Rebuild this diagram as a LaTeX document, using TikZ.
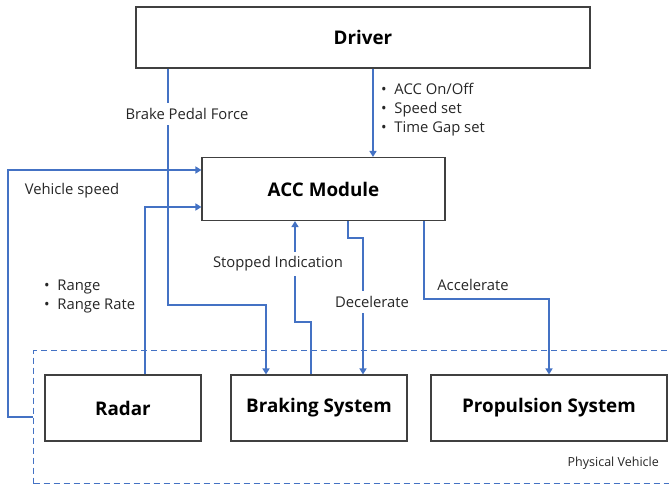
\documentclass[tikz,border=0pt]{standalone}
\usepackage{fontspec}
\setmainfont{Open Sans}
\usetikzlibrary{arrows.meta}
\definecolor{flowblue}{RGB}{68,114,196}
\definecolor{boxgray}{RGB}{64,64,64}
\tikzset{
  box/.style={draw=boxgray, line width=1.1pt, fill=white, font=\fontsize{18.8}{21}\selectfont\bfseries, inner sep=0pt},
  flow/.style={draw=flowblue, line width=2.4pt, -{Triangle[width=7pt,length=6pt]}},
  lbl/.style={font=\fontsize{14.8}{19}\selectfont, text=black!85, inner sep=1pt},
  cut/.style={lbl, fill=white, inner ysep=5pt},
  pvbox/.style={draw=flowblue, line width=1pt, dash pattern=on 6pt off 4pt, inner sep=0pt}
}
\begin{document}
\begin{tikzpicture}[x=1pt,y=-1pt]
\useasboundingbox (0,0) rectangle (669,484);
\clip (0,0) rectangle (669,484);
% physical vehicle region
\node[pvbox, minimum width=660pt, minimum height=133pt, anchor=north west] (pv) at (33,350) {};
\node[lbl, font=\fontsize{12.5}{14}\selectfont, anchor=east] (pvl) at (660,463) {Physical Vehicle};
% boxes
\node[box, minimum width=454pt, minimum height=61pt] (driver) at (363,37.5) {Driver};
\node[box, minimum width=243pt, minimum height=63pt] (acc) at (323.5,189) {ACC Module};
\node[box, minimum width=156pt, minimum height=66pt] (radar) at (123,408) {Radar};
\node[box, minimum width=176pt, minimum height=66pt] (braking) at (319,408) {Braking System};
\node[box, minimum width=236pt, minimum height=66pt] (prop) at (549,408) {Propulsion System};
% connectors
\draw[flow] (driver.south -| 168,0) |- (266,305) -- (braking.north -| 266,0);
\draw[flow] (driver.south -| 373,0) -- (acc.north -| 373,0);
\draw[flow] (pv.west |- 0,417) -| (8,170) -- (acc.west |- 0,170);
\draw[flow] (radar.north -| 145,0) |- (acc.west |- 0,207);
\draw[flow] (braking.north -| 311,0) |- (295,322) -- (acc.south -| 295,0);
\draw[flow] (acc.south -| 348,0) |- (363,238) -- (braking.north -| 363,0);
\draw[flow] (acc.south -| 424,0) |- (549,299) -- (prop.north);
% labels
\node[cut] (lbp) at (187,114) {Brake Pedal Force};
\node[cut] (lsi) at (278,264) {Stopped Indication};
\node[cut] (ldc) at (372,302) {Decelerate};
\node[lbl] (lac) at (473,285) {Accelerate};
\node[lbl] (lvs) at (72,191) {Vehicle speed};
\node[lbl, align=left, anchor=west] (ldr) at (380,110) {•\ \ ACC On/Off\\•\ \ Speed set\\•\ \ Time Gap set};
\node[lbl, align=left, anchor=west] (lrr) at (43,296) {•\ \ Range\\•\ \ Range Rate};
\end{tikzpicture}
\end{document}
